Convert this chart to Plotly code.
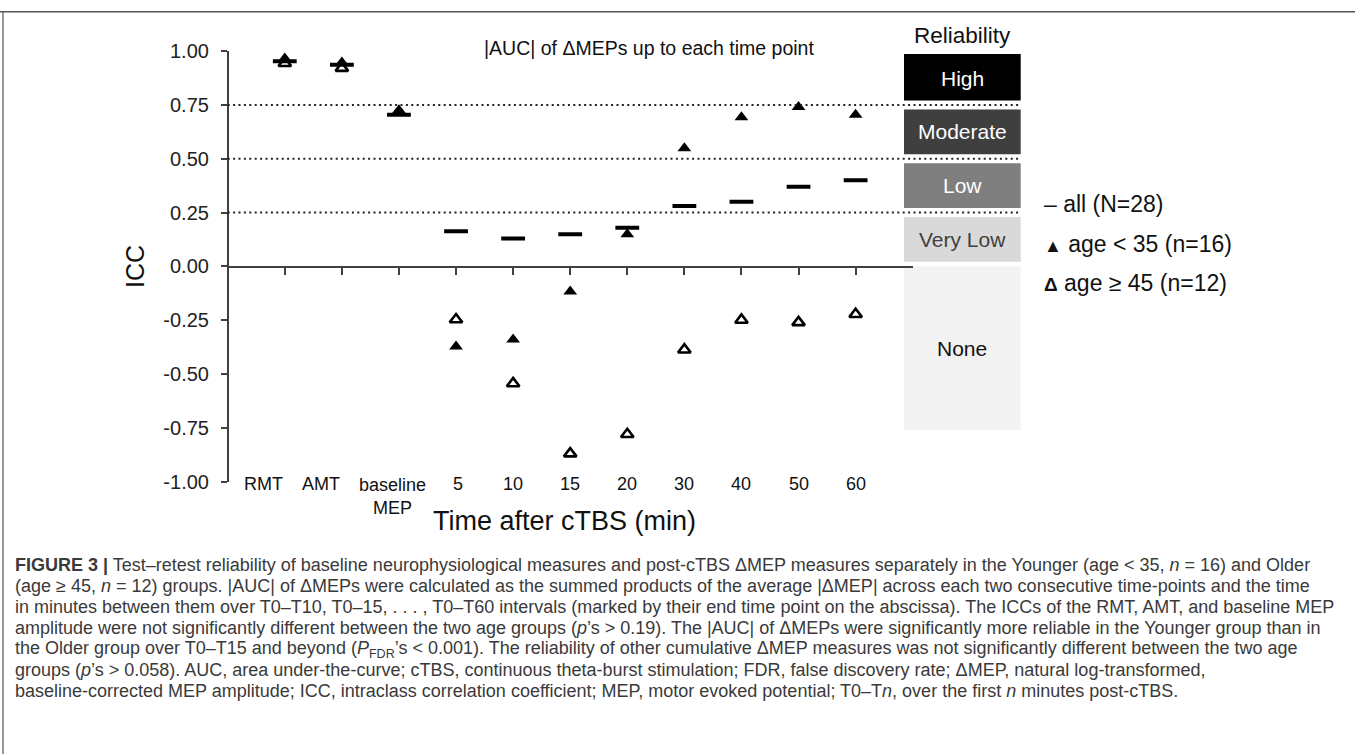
import plotly.graph_objects as go

W = 1355
FIG_H = 780     # page height of the figure
SY, OY = 0.969, 10.7   # the photograph maps page y -> SY*y + OY

# ---------------- data ----------------
categories = ["RMT", "AMT", "baseline<br>MEP", "5", "10", "15", "20", "30", "40", "50", "60"]
icc_all = [0.953, 0.937, 0.704, 0.163, 0.130, 0.149, 0.180, 0.281, 0.300, 0.370, 0.400]
icc_young = [0.966, 0.947, 0.718, -0.372, -0.340, -0.117, 0.149, 0.549, 0.693, 0.740, 0.704]
icc_old = [0.944, 0.921, 0.718, -0.247, -0.544, -0.870, -0.780, -0.387, -0.249, -0.260, -0.222]

y_ticks = [-1.0, -0.75, -0.5, -0.25, 0.0, 0.25, 0.5, 0.75, 1.0]
thresholds = [0.25, 0.5, 0.75]

bands = ["High", "Moderate", "Low", "Very Low", "None"]
band_lo = [0.75, 0.5, 0.25, 0.0, -0.76]
band_hi = [1.0, 0.75, 0.5, 0.25, 0.0]
band_fill = ["#000000", "#3f3f3f", "#7f7f7f", "#d9d9d9", "#f2f2f2"]
band_text = ["#ffffff", "#ffffff", "#ffffff", "#404040", "#111111"]

legend_glyphs = ["–", "▲", "<b>Δ</b>"]
legend_glyph_size = [23, 18, 19]
legend_labels = ["all (N=28)", "age &lt; 35 (n=16)", "age ≥ 45 (n=12)"]

caption_lines = [
    "<b>FIGURE 3 |</b> Test–retest reliability of baseline neurophysiological measures and post-cTBS ΔMEP measures separately in the Younger (age &lt; 35, <i>n</i> = 16) and Older",
    "(age ≥ 45, <i>n</i> = 12) groups. |AUC| of ΔMEPs were calculated as the summed products of the average |ΔMEP| across each two consecutive time-points and the time",
    "in minutes between them over T0–T10, T0–15, . . . , T0–T60 intervals (marked by their end time point on the abscissa). The ICCs of the RMT, AMT, and baseline MEP",
    "amplitude were not significantly different between the two age groups (<i>p</i>’s &gt; 0.19). The |AUC| of ΔMEPs were significantly more reliable in the Younger group than in",
    "the Older group over T0–T15 and beyond (<i>P</i><sub>FDR</sub>’s &lt; 0.001). The reliability of other cumulative ΔMEP measures was not significantly different between the two age",
    "groups (<i>p</i>’s &gt; 0.058). AUC, area under-the-curve; cTBS, continuous theta-burst stimulation; FDR, false discovery rate; ΔMEP, natural log-transformed,",
    "baseline-corrected MEP amplitude; ICC, intraclass correlation coefficient; MEP, motor evoked potential; T0–T<i>n</i>, over the first <i>n</i> minutes post-cTBS.",
]

# ---------------- layout helpers ----------------
FONT = "Liberation Sans, Arial, sans-serif"
px = lambda x: x / W
py = lambda y: 1 - max((y - OY) / SY, 0.8) / FIG_H

x_idx = list(range(len(categories)))
x_dom = [px(227.7), px(912.7)]
y_dom = [py(480), py(50.7)]

fig = go.Figure()
fig.add_trace(go.Scatter(x=x_idx, y=icc_old, mode="markers", name="age ≥ 45",
                         marker=dict(symbol="triangle-up-open", size=11, color="black",
                                     line=dict(width=2.6, color="black"))))
fig.add_trace(go.Scatter(x=x_idx, y=icc_all, mode="markers", name="all",
                         marker=dict(symbol="line-ew", size=17,
                                     line=dict(width=4, color="black"))))
fig.add_trace(go.Scatter(x=x_idx, y=icc_young, mode="markers", name="age < 35",
                         marker=dict(symbol="triangle-up", size=12, color="black")))

shapes = []
# dotted reliability thresholds
for t in thresholds:
    shapes.append(dict(type="line", xref="paper", yref="y", x0=x_dom[0], x1=px(1021), y0=t, y1=t,
                       line=dict(color="#222222", width=2, dash="2px,3.4px"), layer="above"))
# reliability boxes
box_x0, box_x1 = px(904), px(1020.7)
pad = 0.021
for lo, hi, fc in zip(band_lo, band_hi, band_fill):
    y0 = lo + pad if lo > -0.5 else lo
    y1 = hi - pad if 0 < hi < 1 else (hi - 0.013 if hi >= 1 else hi)
    shapes.append(dict(type="rect", xref="paper", yref="y", x0=box_x0, x1=box_x1,
                       y0=y0, y1=y1, fillcolor=fc, line=dict(width=0), layer="below"))
# figure frame (top and left border)
shapes.append(dict(type="line", xref="paper", yref="paper", x0=0, x1=1, y0=py(8.5), y1=py(8.5),
                   line=dict(color="#555555", width=1.6)))
shapes.append(dict(type="line", xref="paper", yref="paper", x0=px(3), x1=px(3), y0=py(8.5), y1=0,
                   line=dict(color="#555555", width=1.2)))

ann = []
# category labels under the plot
label_shift = [-21, -21, -6, 2, 0, 0, 0, 0, 0, 0, 0]
for i, (c, s) in enumerate(zip(categories, label_shift)):
    two = "<br>" in c
    ann.append(dict(x=i, xref="x", y=py(471) if two else py(482), yref="paper", text=c,
                    showarrow=False, xshift=s, xanchor="center",
                    yanchor="top" if two else "middle",
                    font=dict(family=FONT, size=18, color="#111111")))
# axis titles
ann.append(dict(x=px(564), y=py(519), xref="paper", yref="paper", text="Time after cTBS (min)",
                xanchor="center", yanchor="middle",
                showarrow=False, font=dict(family=FONT, size=27, color="#111111")))
ann.append(dict(x=px(135), y=py(266), xref="paper", yref="paper", text="ICC", textangle=-90,
                xanchor="center", yanchor="middle",
                showarrow=False, font=dict(family=FONT, size=25, color="#111111")))
# chart title
ann.append(dict(x=px(649), y=py(48), xref="paper", yref="paper",
                text="|AUC| of ΔMEPs up to each time point", showarrow=False,
                xanchor="center", yanchor="middle",
                font=dict(family=FONT, size=19.5, color="#111111")))
# reliability header and box labels
ann.append(dict(x=px(962), y=py(35), xref="paper", yref="paper", text="Reliability",
                xanchor="center", yanchor="middle",
                showarrow=False, font=dict(family=FONT, size=22.5, color="#111111")))
for b, lo, hi, tc in zip(bands, band_lo, band_hi, band_text):
    ann.append(dict(x=px(962), xref="paper", y=(lo + hi) / 2, yref="y", text=b, showarrow=False,
                    xanchor="center", yanchor="middle",
                    font=dict(family=FONT, size=21, color=tc)))
# legend as text
for g, gs, lab, yy in zip(legend_glyphs, legend_glyph_size, legend_labels, [203, 243, 282]):
    ann.append(dict(x=px(1042), y=py(yy), xref="paper", yref="paper",
                    text=f"<span style='font-size:{gs}px'>{g}</span> {lab}",
                    xanchor="left", yanchor="middle",
                    showarrow=False, font=dict(family=FONT, size=23, color="#111111")))
# caption
for k, line in enumerate(caption_lines):
    ann.append(dict(x=px(13), y=py(563 + 21 * k), xref="paper", yref="paper", text=line,
                    xanchor="left", yanchor="middle", showarrow=False, align="left",
                    font=dict(family=FONT, size=18, color="#3a3a3a")))

fig.update_layout(
    width=W, height=FIG_H, margin=dict(l=0, r=0, t=0, b=0),
    paper_bgcolor="white", plot_bgcolor="rgba(0,0,0,0)",
    showlegend=False,
    xaxis=dict(domain=x_dom, range=[-1, 11], anchor="free", position=py(266),
               showline=True, linecolor="#404040", linewidth=1.5, ticks="outside",
               ticklen=7, tickwidth=1.5, tickcolor="#404040", tickvals=x_idx,
               showticklabels=False, showgrid=False, zeroline=False, fixedrange=True),
    yaxis=dict(domain=y_dom, range=[-1, 1], anchor="free", position=x_dom[0],
               showline=True, linecolor="#404040", linewidth=1.5, ticks="outside",
               ticklen=6, tickwidth=1.5, tickcolor="#404040", tickvals=y_ticks,
               ticktext=[f"{v:.2f}" for v in y_ticks], ticklabelstandoff=8,
               tickfont=dict(family=FONT, size=20, color="#222222"),
               showgrid=False, zeroline=False, fixedrange=True),
    shapes=shapes, annotations=ann,
)

post = ("var d=document.getElementById('{plot_id}');"
        "d.style.position='absolute';d.style.left='0px';d.style.top='0px';"
        "document.body.style.margin='0px';document.body.style.overflow='hidden';")
fig.write_html("out.html", post_script=post, config={"displayModeBar": False})
